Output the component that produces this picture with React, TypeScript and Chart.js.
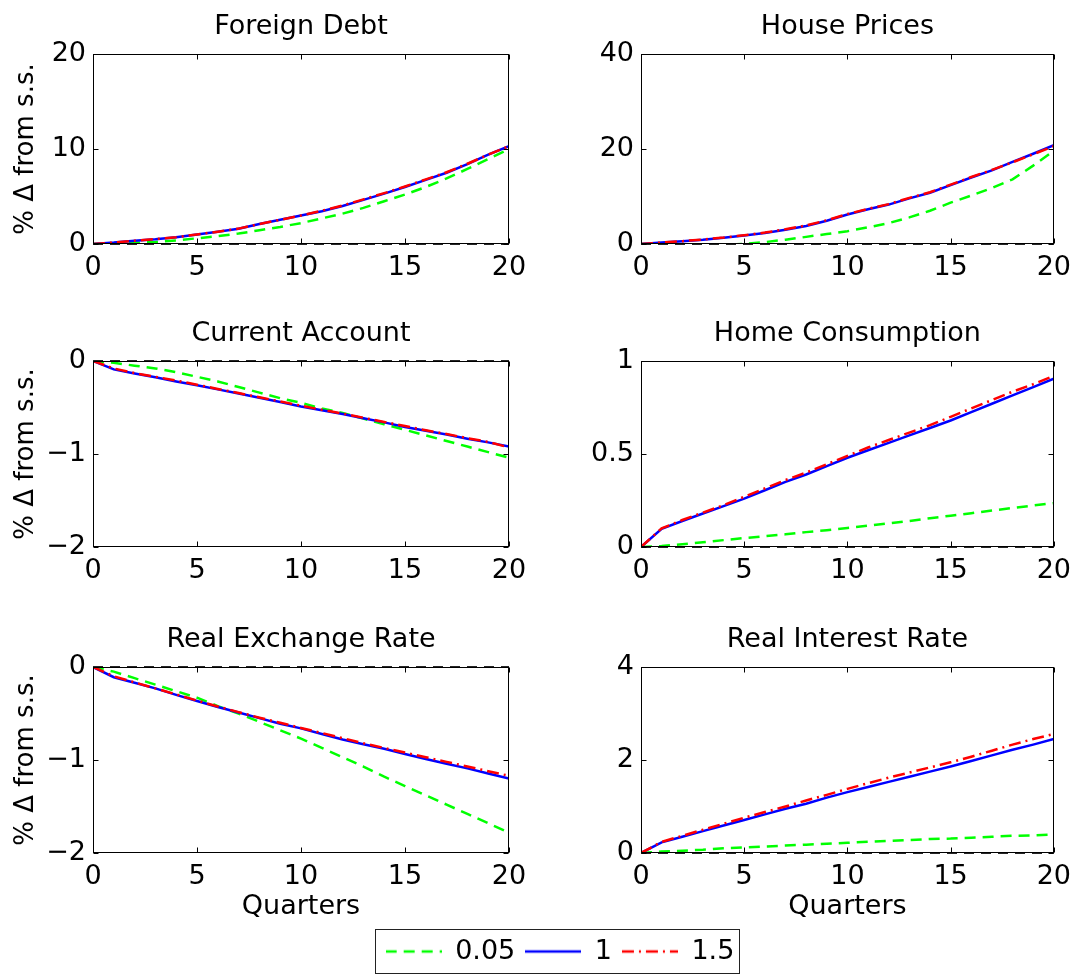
import React, { useEffect, useRef } from 'react';
import { Chart, registerables } from 'chart.js';

Chart.register(...registerables);

const FONT_FAMILY = "'DejaVu Sans', 'Liberation Sans', sans-serif";
Chart.defaults.font.family = FONT_FAMILY;
Chart.defaults.color = '#000';

// ---------------- data ----------------
const quarters = [0, 1, 2, 3, 4, 5, 6, 7, 8, 9, 10, 11, 12, 13, 14, 15, 16, 17, 18, 19, 20];
const zeroX = [0, 20];
const zeroY = [0, 0];
const seriesLabels = ['0.05', '1', '1.5'];

const foreignDebtLow = [0, 0.05, 0.12, 0.22, 0.38, 0.6, 0.82, 1.1, 1.45, 1.8, 2.2, 2.7, 3.2, 3.8, 4.5, 5.2, 6.0, 6.9, 7.9, 8.95, 10.0];
const foreignDebtMid = [0, 0.15, 0.35, 0.5, 0.7, 1.0, 1.3, 1.6, 2.1, 2.55, 3.0, 3.45, 4.0, 4.65, 5.3, 6.0, 6.75, 7.5, 8.4, 9.4, 10.3];
const foreignDebtHigh = [0, 0.15, 0.35, 0.52, 0.72, 1.0, 1.3, 1.62, 2.1, 2.55, 3.0, 3.5, 4.05, 4.7, 5.35, 6.05, 6.8, 7.55, 8.45, 9.4, 10.3];

const housePricesLow = [0, -0.1, -0.2, -0.25, -0.2, 0.05, 0.4, 0.9, 1.5, 2.1, 2.7, 3.5, 4.4, 5.6, 7.0, 8.7, 10.2, 11.8, 13.6, 16.5, 19.6];
const housePricesMid = [0, 0.3, 0.6, 0.9, 1.3, 1.8, 2.3, 3.0, 3.8, 4.9, 6.2, 7.3, 8.3, 9.6, 10.8, 12.4, 14.0, 15.5, 17.3, 19.0, 20.8];
const housePricesHigh = [0, 0.3, 0.6, 0.95, 1.35, 1.85, 2.4, 3.1, 3.9, 5.0, 6.3, 7.4, 8.4, 9.7, 10.9, 12.5, 14.1, 15.6, 17.2, 18.9, 20.6];

const currentAccountLow = [0, -0.02, -0.05, -0.08, -0.12, -0.17, -0.22, -0.28, -0.34, -0.4, -0.45, -0.51, -0.56, -0.62, -0.68, -0.74, -0.8, -0.86, -0.92, -0.98, -1.04];
const currentAccountMid = [0, -0.09, -0.135, -0.175, -0.22, -0.26, -0.305, -0.35, -0.395, -0.44, -0.49, -0.53, -0.57, -0.615, -0.66, -0.71, -0.75, -0.79, -0.835, -0.875, -0.92];
const currentAccountHigh = [0, -0.08, -0.13, -0.17, -0.21, -0.255, -0.3, -0.345, -0.39, -0.435, -0.48, -0.525, -0.565, -0.61, -0.655, -0.7, -0.745, -0.785, -0.83, -0.87, -0.93];

const homeConsumptionLow = [0, 0.005, 0.015, 0.025, 0.037, 0.048, 0.058, 0.068, 0.08, 0.09, 0.102, 0.115, 0.127, 0.14, 0.155, 0.168, 0.182, 0.196, 0.21, 0.223, 0.236];
const homeConsumptionMid = [0, 0.098, 0.14, 0.18, 0.22, 0.26, 0.305, 0.35, 0.39, 0.435, 0.48, 0.52, 0.56, 0.6, 0.64, 0.68, 0.725, 0.77, 0.815, 0.86, 0.905];
const homeConsumptionHigh = [0, 0.1, 0.145, 0.185, 0.225, 0.27, 0.315, 0.36, 0.4, 0.445, 0.49, 0.535, 0.575, 0.615, 0.655, 0.7, 0.745, 0.79, 0.835, 0.875, 0.92];

const exchangeRateLow = [0, -0.05, -0.12, -0.19, -0.26, -0.33, -0.42, -0.5, -0.59, -0.68, -0.77, -0.87, -0.97, -1.07, -1.18, -1.28, -1.38, -1.48, -1.58, -1.68, -1.78];
const exchangeRateMid = [0, -0.11, -0.17, -0.23, -0.3, -0.365, -0.43, -0.49, -0.55, -0.61, -0.66, -0.72, -0.78, -0.83, -0.88, -0.935, -0.99, -1.04, -1.09, -1.145, -1.2];
const exchangeRateHigh = [0, -0.1, -0.165, -0.23, -0.295, -0.36, -0.425, -0.485, -0.545, -0.6, -0.655, -0.71, -0.765, -0.82, -0.87, -0.92, -0.97, -1.02, -1.07, -1.12, -1.17];

const interestRateLow = [0, 0.03, 0.05, 0.07, 0.1, 0.12, 0.14, 0.16, 0.18, 0.2, 0.22, 0.24, 0.26, 0.28, 0.3, 0.31, 0.33, 0.35, 0.37, 0.38, 0.4];
const interestRateMid = [0, 0.23, 0.35, 0.47, 0.59, 0.71, 0.83, 0.95, 1.06, 1.19, 1.31, 1.42, 1.53, 1.64, 1.75, 1.86, 1.98, 2.1, 2.22, 2.33, 2.45];
const interestRateHigh = [0, 0.24, 0.37, 0.5, 0.63, 0.76, 0.88, 1.0, 1.13, 1.25, 1.38, 1.5, 1.62, 1.73, 1.84, 1.95, 2.07, 2.2, 2.33, 2.45, 2.56];

const xTickRange = [0, 20, 5];
const yLabel = '% Δ from s.s.';
const xLabel = 'Quarters';

// ---------------- styles ----------------
const COLORS = ['#00ff00', '#0000ff', '#ff0000'];
const DASHES: number[][] = [[11, 7], [], [12, 5, 2, 5]];
const LINE_W = 2.5;
const TEXT_SIZE = 27;

const COL_CANVAS_LEFT = [0, 540];
const COL_PLOT_LEFT = [93, 641];
const COL_PLOT_RIGHT = [509, 1057];
const COL_CANVAS_RIGHT = [540, 1079];
const ROW_PLOT_TOP = [54, 361, 667];
const ROW_PLOT_BOTTOM = [244, 547, 853];
const TITLE_BLOCK = 53;

type Panel = {
  title: string;
  low: number[];
  mid: number[];
  high: number[];
  yRange: number[];
  row: number;
  col: number;
};

const panels: Panel[] = [
  { title: 'Foreign Debt', low: foreignDebtLow, mid: foreignDebtMid, high: foreignDebtHigh, yRange: [0, 20, 10], row: 0, col: 0 },
  { title: 'House Prices', low: housePricesLow, mid: housePricesMid, high: housePricesHigh, yRange: [0, 40, 20], row: 0, col: 1 },
  { title: 'Current Account', low: currentAccountLow, mid: currentAccountMid, high: currentAccountHigh, yRange: [-2, 0, 1], row: 1, col: 0 },
  { title: 'Home Consumption', low: homeConsumptionLow, mid: homeConsumptionMid, high: homeConsumptionHigh, yRange: [0, 1, 0.5], row: 1, col: 1 },
  { title: 'Real Exchange Rate', low: exchangeRateLow, mid: exchangeRateMid, high: exchangeRateHigh, yRange: [-2, 0, 1], row: 2, col: 0 },
  { title: 'Real Interest Rate', low: interestRateLow, mid: interestRateMid, high: interestRateHigh, yRange: [0, 4, 2], row: 2, col: 1 },
];

const fmt = (value: any) => {
  const v = Number(value);
  return v < 0 ? '\u2212' + String(Math.abs(v)) : String(v);
};

const boxPlugin = {
  id: 'matlabBox',
  afterDatasetsDraw(chart: any) {
    const { ctx, chartArea: a, scales } = chart;
    ctx.save();
    ctx.setLineDash([]);
    ctx.strokeStyle = '#000';
    ctx.lineWidth = 1;
    const l = Math.round(a.left) + 0.5;
    const t = Math.round(a.top) + 0.5;
    const r = Math.round(a.right) - 0.5;
    const b = Math.round(a.bottom) - 0.5;
    ctx.strokeRect(l, t, r - l, b - t);
    const L = 5;
    ctx.beginPath();
    scales.x.ticks.forEach((tk: any) => {
      const px = Math.round(scales.x.getPixelForValue(tk.value)) + 0.5;
      ctx.moveTo(px, b);
      ctx.lineTo(px, b - L);
      ctx.moveTo(px, t);
      ctx.lineTo(px, t + L);
    });
    scales.y.ticks.forEach((tk: any) => {
      const py = Math.round(scales.y.getPixelForValue(tk.value)) + 0.5;
      ctx.moveTo(l, py);
      ctx.lineTo(l + L, py);
      ctx.moveTo(r, py);
      ctx.lineTo(r - L, py);
    });
    ctx.stroke();
    ctx.restore();
  },
};

function Subplot({ panel }: { panel: Panel }) {
  const ref = useRef<HTMLCanvasElement>(null);
  const { row, col } = panel;
  const xAxisH = row === 2 ? 70 : 50;
  const canvasLeft = COL_CANVAS_LEFT[col];
  const canvasTop = ROW_PLOT_TOP[row] - TITLE_BLOCK;
  const w = COL_CANVAS_RIGHT[col] - canvasLeft;
  const h = TITLE_BLOCK + (ROW_PLOT_BOTTOM[row] - ROW_PLOT_TOP[row]) + xAxisH;
  const yAxisW = COL_PLOT_LEFT[col] - canvasLeft;
  const padRight = COL_CANVAS_RIGHT[col] - COL_PLOT_RIGHT[col];

  useEffect(() => {
    const series = [panel.low, panel.mid, panel.high];
    const datasets: any[] = series.map((vals, i) => ({
      label: seriesLabels[i],
      data: quarters.map((q, k) => ({ x: q, y: vals[k] })),
      borderColor: COLORS[i],
      backgroundColor: COLORS[i],
      borderWidth: LINE_W,
      borderDash: DASHES[i],
      pointRadius: 0,
      tension: 0,
      order: 2 - i,
    }));
    datasets.push({
      label: 'zero',
      data: zeroX.map((x, k) => ({ x, y: zeroY[k] })),
      borderColor: 'rgba(0,0,0,0.85)',
      borderWidth: 1.8,
      borderDash: [10, 7],
      pointRadius: 0,
      tension: 0,
      clip: false,
      order: 3,
    });
    const chart = new Chart(ref.current as HTMLCanvasElement, {
      type: 'line',
      data: { datasets },
      plugins: [boxPlugin],
      options: {
        responsive: false,
        animation: false,
        events: [],
        layout: { padding: { left: 0, top: 0, bottom: 0, right: padRight } },
        plugins: {
          legend: { display: false },
          tooltip: { enabled: false },
          title: {
            display: true,
            fullSize: false,
            text: panel.title,
            color: '#000',
            font: { size: TEXT_SIZE, weight: 'normal', family: FONT_FAMILY, lineHeight: 1.2 },
            padding: { top: 9.5, bottom: 53 - 9.5 - TEXT_SIZE * 1.2 },
          },
        },
        scales: {
          x: {
            type: 'linear',
            min: xTickRange[0],
            max: xTickRange[1],
            afterFit: (s: any) => { s.height = xAxisH; },
            border: { display: false },
            grid: { display: false, drawTicks: false },
            ticks: {
              stepSize: xTickRange[2],
              autoSkip: false,
              maxRotation: 0,
              padding: 8,
              color: '#000',
              font: { size: TEXT_SIZE, family: FONT_FAMILY, lineHeight: 1.2 },
              callback: fmt,
            },
            title: {
              display: row === 2,
              text: xLabel,
              color: '#000',
              font: { size: TEXT_SIZE, family: FONT_FAMILY, lineHeight: 1.2 },
              padding: { top: 0, bottom: 0 },
            },
          },
          y: {
            type: 'linear',
            min: panel.yRange[0],
            max: panel.yRange[1],
            afterFit: (s: any) => { s.width = yAxisW; },
            border: { display: false },
            grid: { display: false, drawTicks: false },
            ticks: {
              stepSize: panel.yRange[2],
              autoSkip: false,
              padding: 7,
              color: '#000',
              font: { size: TEXT_SIZE, family: FONT_FAMILY, lineHeight: 1.2 },
              callback: fmt,
            },
            title: {
              display: col === 0,
              text: yLabel,
              color: '#000',
              font: { size: 26, family: FONT_FAMILY, lineHeight: 1.2 },
              padding: { top: 11, bottom: 0 },
            },
          },
        },
      } as any,
    });
    return () => chart.destroy();
  }, []);

  return (
    <canvas
      ref={ref}
      width={w}
      height={h}
      style={{ position: 'absolute', left: canvasLeft + 'px', top: canvasTop + 'px', width: w + 'px', height: h + 'px' }}
    />
  );
}

const legendBoxPlugin = {
  id: 'legendBox',
  afterDraw(chart: any) {
    const hb = chart.legend && chart.legend.legendHitBoxes;
    if (!hb || !hb.length) return;
    const first = hb[0];
    const last = hb[hb.length - 1];
    const cy = first.top + first.height / 2;
    const { ctx } = chart;
    ctx.save();
    ctx.setLineDash([]);
    ctx.strokeStyle = '#222';
    ctx.lineWidth = 1;
    const l = Math.round(first.left - 11) + 0.5;
    const r = Math.round(last.left + last.width + 5) + 0.5;
    const t = Math.round(cy - 23) + 0.5;
    const b = Math.round(cy + 22.5) - 0.5;
    ctx.strokeRect(l, t, r - l, b - t);
    ctx.restore();
  },
};

const SAMPLE_W = 56;

function makeLineSample(i: number) {
  const c = document.createElement('canvas');
  c.width = SAMPLE_W;
  c.height = 6;
  const g = c.getContext('2d') as CanvasRenderingContext2D;
  g.strokeStyle = COLORS[i];
  g.lineWidth = LINE_W;
  g.setLineDash(DASHES[i]);
  g.beginPath();
  g.moveTo(0, 3);
  g.lineTo(SAMPLE_W, 3);
  g.stroke();
  return c;
}

function LegendChart() {
  const ref = useRef<HTMLCanvasElement>(null);
  const w = 440;
  const h = 47;
  const left = 340;
  const top = 928;
  useEffect(() => {
    const samples = seriesLabels.map((_, i) => makeLineSample(i));
    const datasets = seriesLabels.map((lab, i) => ({
      label: lab,
      data: [] as any[],
      borderColor: COLORS[i],
      backgroundColor: COLORS[i],
      borderWidth: LINE_W,
      borderDash: DASHES[i],
    }));
    const chart = new Chart(ref.current as HTMLCanvasElement, {
      type: 'line',
      data: { datasets },
      plugins: [legendBoxPlugin],
      options: {
        responsive: false,
        animation: false,
        events: [],
        layout: { padding: 0 },
        scales: { x: { display: false }, y: { display: false } },
        plugins: {
          tooltip: { enabled: false },
          legend: {
            display: true,
            position: 'top',
            align: 'center',
            maxHeight: 60,
            labels: {
              usePointStyle: true,
              pointStyleWidth: SAMPLE_W,
              padding: 10,
              color: '#000',
              font: { size: TEXT_SIZE, family: FONT_FAMILY },
              generateLabels: (ch: any) =>
                ch.data.datasets.map((ds: any, i: number) => ({
                  text: ds.label,
                  pointStyle: samples[i],
                  fillStyle: COLORS[i],
                  strokeStyle: COLORS[i],
                  lineWidth: LINE_W,
                  hidden: false,
                  datasetIndex: i,
                  fontColor: '#000',
                })),
            },
          },
        },
      } as any,
    });
    return () => chart.destroy();
  }, []);
  return (
    <canvas
      ref={ref}
      width={w}
      height={h}
      style={{ position: 'absolute', left: left + 'px', top: top + 'px', width: w + 'px', height: h + 'px' }}
    />
  );
}

export default function App() {
  useEffect(() => {
    document.body.style.margin = '0';
  }, []);
  return (
    <div style={{ position: 'absolute', left: 0, top: 0, width: '1079px', height: '975px', background: '#fff', overflow: 'hidden' }}>
      {panels.map((p) => (
        <Subplot key={p.title} panel={p} />
      ))}
      <LegendChart />
    </div>
  );
}
